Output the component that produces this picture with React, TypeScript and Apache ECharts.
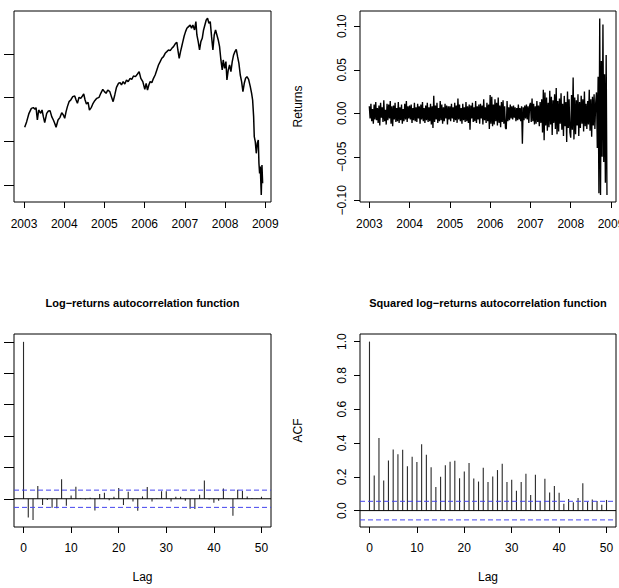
import React, { useEffect, useRef } from "react";
import * as echarts from "echarts";

const FONT = "'Liberation Sans', Arial, Helvetica, sans-serif";

// Index level through the sample, as [decimal year, level]
const indexLevels: [number, number][] = [
  [2003.017, 5320], [2003.066, 5449], [2003.124, 5640], [2003.183, 5754], [2003.232, 5770],
  [2003.274, 5732], [2003.299, 5770], [2003.332, 5487], [2003.365, 5716], [2003.415, 5640],
  [2003.448, 5716], [2003.481, 5564], [2003.515, 5426], [2003.564, 5640], [2003.606, 5693],
  [2003.647, 5701], [2003.689, 5564], [2003.73, 5487], [2003.763, 5411], [2003.797, 5320],
  [2003.846, 5487], [2003.896, 5548], [2003.938, 5655], [2003.979, 5602], [2004.012, 5526],
  [2004.046, 5678], [2004.079, 5793], [2004.12, 5907], [2004.162, 5945], [2004.212, 6021],
  [2004.261, 6037], [2004.295, 5945], [2004.328, 5869], [2004.369, 6006], [2004.411, 5983],
  [2004.452, 6037], [2004.485, 6082], [2004.519, 5945], [2004.552, 5854], [2004.593, 5892],
  [2004.627, 5716], [2004.676, 5777], [2004.718, 5869], [2004.759, 5930], [2004.809, 5983],
  [2004.867, 6006], [2004.909, 6098], [2004.959, 6189], [2005.0, 6136], [2005.041, 6098],
  [2005.083, 6174], [2005.133, 6136], [2005.174, 6021], [2005.216, 5907], [2005.257, 6060],
  [2005.299, 6235], [2005.349, 6327], [2005.39, 6342], [2005.423, 6288], [2005.465, 6365],
  [2005.506, 6311], [2005.548, 6403], [2005.589, 6365], [2005.639, 6441], [2005.68, 6418],
  [2005.722, 6494], [2005.772, 6479], [2005.822, 6540], [2005.863, 6594], [2005.905, 6441],
  [2005.954, 6365], [2006.004, 6189], [2006.037, 6327], [2006.071, 6174], [2006.104, 6288],
  [2006.137, 6365], [2006.178, 6342], [2006.22, 6441], [2006.261, 6517], [2006.303, 6632],
  [2006.344, 6746], [2006.386, 6822], [2006.427, 6899], [2006.469, 6937], [2006.51, 7013],
  [2006.552, 7051], [2006.593, 7089], [2006.635, 7074], [2006.676, 7127], [2006.718, 7166],
  [2006.768, 7242], [2006.801, 7265], [2006.826, 7089], [2006.859, 6899], [2006.892, 7051],
  [2006.925, 7181], [2006.95, 7280], [2006.983, 7410], [2007.017, 7509], [2007.05, 7585],
  [2007.091, 7623], [2007.133, 7661], [2007.166, 7585], [2007.199, 7661], [2007.241, 7547],
  [2007.274, 7738], [2007.299, 7433], [2007.332, 7280], [2007.365, 7089], [2007.398, 7280],
  [2007.432, 7356], [2007.465, 7547], [2007.498, 7661], [2007.531, 7776], [2007.564, 7814],
  [2007.598, 7700], [2007.631, 7738], [2007.664, 7394], [2007.697, 7089], [2007.73, 7433],
  [2007.763, 7547], [2007.797, 7433], [2007.83, 7318], [2007.863, 7166], [2007.896, 6861],
  [2007.929, 6632], [2007.954, 6861], [2007.988, 6670], [2008.021, 6822], [2008.046, 6403],
  [2008.079, 6632], [2008.112, 6746], [2008.145, 6594], [2008.178, 6822], [2008.212, 6975],
  [2008.245, 7051], [2008.278, 7105], [2008.311, 6937], [2008.344, 6784], [2008.378, 6517],
  [2008.411, 6365], [2008.444, 6136], [2008.477, 6327], [2008.51, 6441], [2008.544, 6479],
  [2008.585, 6418], [2008.627, 6250], [2008.66, 6098], [2008.685, 5945], [2008.71, 5564],
  [2008.726, 5106], [2008.751, 4992], [2008.776, 4725], [2008.801, 4954], [2008.826, 5030],
  [2008.842, 4496], [2008.859, 4267], [2008.876, 4420], [2008.9, 3771], [2008.917, 4458],
  [2008.934, 4038],
];
const levelTicks = [4000, 5000, 6000, 7000];
const yearTicks = [2003, 2004, 2005, 2006, 2007, 2008, 2009];

// Log-returns on an evenly spaced time grid
const returnsStart = 2003;
const returnsStep = 0.02;
const logReturns = [
  // 2003
  0.008, -0.006, 0.011, -0.009, 0.005, -0.012, 0.01, -0.007, 0.013, -0.008,
  0.006, -0.011, 0.009, -0.014, 0.012, -0.005, 0.007, -0.01, 0.015, -0.009,
  0.004, -0.013, 0.011, -0.008, 0.01, -0.006, 0.014, -0.012, 0.008, -0.015,
  0.009, -0.007, 0.012, -0.01, 0.006, -0.009, 0.013, -0.011, 0.007, -0.008,
  0.01, -0.012, 0.005, -0.009, 0.011, -0.007, 0.014, -0.01, 0.008, -0.006,
  // 2004
  0.009, -0.007, 0.01, -0.011, 0.006, -0.008, 0.012, -0.009, 0.007, -0.01,
  0.011, -0.006, 0.008, -0.012, 0.01, -0.007, 0.013, -0.009, 0.006, -0.011,
  0.009, -0.008, 0.012, -0.01, 0.007, -0.009, 0.011, -0.013, 0.008, -0.017,
  0.02, -0.01, 0.009, -0.007, 0.012, -0.011, 0.006, -0.009, 0.014, -0.008,
  0.01, -0.012, 0.007, -0.009, 0.011, -0.006, 0.009, -0.013, 0.008, -0.007,
  // 2005
  0.008, -0.009, 0.011, -0.006, 0.007, -0.01, 0.012, -0.008, 0.009, -0.011,
  0.017, -0.007, 0.01, -0.009, 0.006, -0.012, 0.011, -0.008, 0.007, -0.01,
  0.013, -0.009, 0.008, -0.011, 0.01, -0.019, 0.009, -0.006, 0.012, -0.01,
  0.007, -0.009, 0.014, -0.011, 0.008, -0.007, 0.01, -0.012, 0.011, -0.006,
  0.009, -0.013, 0.016, -0.008, 0.007, -0.011, 0.012, -0.009, 0.01, -0.018,
  // 2006
  0.021, -0.012, 0.019, -0.015, 0.01, -0.013, 0.016, -0.009, 0.012, -0.014,
  0.018, -0.011, 0.009, -0.016, 0.013, -0.01, 0.015, -0.012, 0.008, -0.017,
  -0.018, 0.014, -0.009, 0.007, -0.008, 0.01, -0.006, 0.008, -0.007, 0.009,
  -0.005, 0.007, -0.009, 0.006, -0.008, 0.01, -0.007, 0.006, -0.009, 0.008,
  -0.035, 0.007, -0.008, 0.009, -0.006, 0.01, -0.007, 0.008, -0.011, 0.009,
  // 2007
  0.012, -0.01, 0.017, -0.009, 0.011, -0.013, 0.008, -0.012, 0.014, -0.01,
  0.009, -0.015, 0.013, -0.011, 0.016, -0.022, 0.027, -0.031, 0.024, -0.014,
  0.018, -0.02, 0.012, -0.016, 0.026, -0.013, 0.019, -0.025, 0.015, -0.011,
  0.022, -0.018, 0.029, -0.024, 0.014, -0.021, 0.017, -0.012, 0.023, -0.019,
  0.011, -0.026, 0.02, -0.015, 0.013, -0.033, 0.025, -0.017, 0.016, -0.022,
  // 2008
  -0.028, 0.021, -0.019, 0.041, -0.03, 0.018, -0.024, 0.015, -0.014, 0.022,
  -0.026, 0.013, -0.017, 0.02, -0.012, 0.016, -0.021, 0.025, -0.015, 0.011,
  -0.018, 0.014, -0.013, 0.027, -0.02, 0.016, -0.027, 0.019, -0.014, 0.022,
  -0.018, 0.012, 0.024, -0.04, 0.042, -0.092, 0.109, -0.094, 0.06, -0.05,
  0.102, -0.056, 0.045, -0.08, 0.067, -0.094,
];
const returnTicks = [-0.1, -0.05, 0, 0.05, 0.1];

// Sample autocorrelations at lags 0..50
const acfLogReturns = [
  1.0, -0.119, -0.136, 0.081, -0.04, -0.008, -0.057, -0.06, 0.124, -0.045,
  0.021, 0.077, 0.003, -0.004, 0.006, -0.075, 0.03, 0.038, -0.01, 0.013,
  0.068, -0.04, 0.045, -0.017, -0.077, 0.015, 0.075, -0.017, 0.004, 0.048,
  0.048, -0.017, 0.012, 0.013, -0.012, -0.063, -0.065, 0.026, 0.116, -0.005,
  -0.026, -0.012, 0.066, 0.002, -0.108, 0.058, 0.049, 0.014, 0.004, 0.002,
  0.013,
];
const acfSquaredReturns = [
  1.0, 0.208, 0.43, 0.178, 0.297, 0.362, 0.333, 0.36, 0.263, 0.319,
  0.287, 0.392, 0.331, 0.257, 0.139, 0.2, 0.269, 0.289, 0.295, 0.192,
  0.232, 0.281, 0.19, 0.172, 0.253, 0.17, 0.202, 0.24, 0.277, 0.17,
  0.182, 0.117, 0.17, 0.218, 0.093, 0.212, 0.057, 0.188, 0.107, 0.145,
  0.105, 0.04, 0.069, 0.05, 0.075, 0.162, 0.053, 0.065, 0.057, 0.034,
  0.063,
];
const acfBand = 0.055;
const acfTicks = [0, 0.2, 0.4, 0.6, 0.8, 1.0];
const lagTicks = [0, 10, 20, 30, 40, 50];

const withMinus = (s: string) => s.replace(/-/g, "\u2212");

function xAxisFor(gridIndex: number, min: number, max: number, ticks: number[], labelMargin: number, name?: string) {
  return {
    type: "value",
    gridIndex,
    min,
    max,
    position: "bottom",
    axisLine: { show: false, onZero: false },
    splitLine: { show: false },
    axisTick: { show: true, length: 6, customValues: ticks, lineStyle: { color: "#000", width: 1 } },
    axisLabel: {
      show: true,
      customValues: ticks,
      formatter: (v: number) => String(v),
      color: "#000",
      fontFamily: FONT,
      fontSize: 12,
      margin: labelMargin,
    },
    name: name || "",
    nameLocation: "middle",
    nameGap: 44,
    nameTextStyle: { color: "#000", fontFamily: FONT, fontSize: 12 },
  };
}

function yAxisFor(
  gridIndex: number,
  min: number,
  max: number,
  ticks: number[],
  tickLength: number,
  fmt: ((v: number) => string) | null,
  name?: string
) {
  return {
    type: "value",
    gridIndex,
    min,
    max,
    position: "left",
    axisLine: { show: false, onZero: false },
    splitLine: { show: false },
    axisTick: { show: true, length: tickLength, customValues: ticks, lineStyle: { color: "#000", width: 1 } },
    axisLabel: {
      show: fmt !== null,
      customValues: ticks,
      formatter: (v: number) => (fmt ? fmt(v) : ""),
      rotate: 90,
      color: "#000",
      fontFamily: FONT,
      fontSize: 12,
      margin: 12,
    },
    name: name || "",
    nameLocation: "middle",
    nameGap: 56,
    nameTextStyle: { color: "#000", fontFamily: FONT, fontSize: 12 },
  };
}

function spikes(axisIndex: number, values: number[]) {
  return {
    type: "custom",
    xAxisIndex: axisIndex,
    yAxisIndex: axisIndex,
    data: values.map((v, lag) => [lag, v]),
    renderItem: (_params: any, api: any) => {
      const base = api.coord([api.value(0), 0]);
      const tip = api.coord([api.value(0), api.value(1)]);
      return {
        type: "line",
        shape: { x1: base[0], y1: base[1], x2: tip[0], y2: tip[1] },
        style: { stroke: "#2a2a2a", lineWidth: 1.1 },
      };
    },
    z: 2,
  };
}

function hLine(axisIndex: number, xMin: number, xMax: number, y: number, color: string, dashed: boolean) {
  return {
    type: "line",
    xAxisIndex: axisIndex,
    yAxisIndex: axisIndex,
    data: [[xMin, y], [xMax, y]],
    symbol: "none",
    showSymbol: false,
    silent: true,
    lineStyle: { color, width: 1, type: dashed ? [5, 3] : "solid" },
    z: 3,
  };
}

export default function App() {
  const ref = useRef<HTMLDivElement>(null);

  useEffect(() => {
    if (!ref.current) return;
    const chart = echarts.init(ref.current, null, { renderer: "svg" });

    const lagMin = -2;
    const lagMax = 52;
    const blue = "#4545ee";

    const titleText = (x: number, text: string) => ({
      type: "text",
      x,
      y: 303,
      style: {
        text,
        fill: "#000",
        font: `bold 11px ${FONT}`,
        textAlign: "center",
        textVerticalAlign: "middle",
        align: "center",
        verticalAlign: "middle",
      },
    });

    chart.setOption({
      animation: false,
      backgroundColor: "#fff",
      grid: [
        { left: 14, top: 11, width: 257, height: 191 },
        { left: 360, top: 11, width: 256, height: 191 },
        { left: 14, top: 334, width: 257, height: 193 },
        { left: 360, top: 334, width: 256, height: 193 },
      ].map((g) => ({
        ...g,
        show: true,
        borderColor: "#000",
        borderWidth: 1,
        backgroundColor: "transparent",
        containLabel: false,
        outerBoundsMode: "none",
      })),
      xAxis: [
        xAxisFor(0, 2002.751, 2009.142, yearTicks, 16),
        xAxisFor(1, 2002.769, 2009.124, yearTicks, 16),
        xAxisFor(2, lagMin, lagMax, lagTicks, 15, "Lag"),
        xAxisFor(3, lagMin, lagMax, lagTicks, 15, "Lag"),
      ],
      yAxis: [
        yAxisFor(0, 3611, 7981, levelTicks, 10, null),
        yAxisFor(1, -0.102, 0.1176, returnTicks, 6, (v) => withMinus(v.toFixed(2)), "Returns"),
        yAxisFor(2, -0.18, 1.05, acfTicks, 10, null),
        yAxisFor(3, -0.097, 1.045, acfTicks, 6, (v) => v.toFixed(1), "ACF"),
      ],
      graphic: [
        titleText(142.5, withMinus("Log-returns autocorrelation function")),
        titleText(488, withMinus("Squared log-returns autocorrelation function")),
      ],
      series: [
        {
          type: "line",
          xAxisIndex: 0,
          yAxisIndex: 0,
          data: indexLevels,
          symbol: "none",
          showSymbol: false,
          lineStyle: { color: "#000", width: 1.5 },
        },
        {
          type: "line",
          xAxisIndex: 1,
          yAxisIndex: 1,
          data: logReturns.map((r, i) => [returnsStart + i * returnsStep, r]),
          symbol: "none",
          showSymbol: false,
          clip: true,
          lineStyle: { color: "#000", width: 1.35 },
        },
        spikes(2, acfLogReturns),
        hLine(2, lagMin, lagMax, 0, "#000", false),
        hLine(2, lagMin, lagMax, acfBand, blue, true),
        hLine(2, lagMin, lagMax, -acfBand, blue, true),
        spikes(3, acfSquaredReturns),
        hLine(3, lagMin, lagMax, 0, "#000", false),
        hLine(3, lagMin, lagMax, acfBand, blue, true),
        hLine(3, lagMin, lagMax, -acfBand, blue, true),
      ],
    });

    return () => chart.dispose();
  }, []);

  return (
    <div
      ref={ref}
      style={{ position: "absolute", left: 0, top: 0, width: 619, height: 588, background: "#fff" }}
    />
  );
}
